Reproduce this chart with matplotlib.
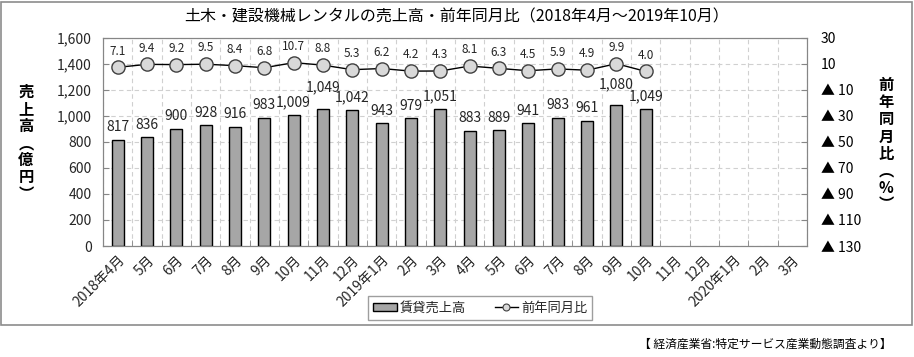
import numpy as np
import matplotlib
matplotlib.use("Agg")
import matplotlib.pyplot as plt
from matplotlib.patches import Rectangle
from matplotlib.lines import Line2D

plt.rcParams['font.family'] = ['Noto Sans CJK JP', 'DejaVu Sans']

# category labels (2018/4 - 2020/3), data only up to 2019/10
months = ["2018年4月", "5月", "6月", "7月", "8月", "9月", "10月", "11月", "12月",
          "2019年1月", "2月", "3月", "4月", "5月", "6月", "7月", "8月", "9月", "10月",
          "11月", "12月", "2020年1月", "2月", "3月"]
sales = [817, 836, 900, 928, 916, 983, 1009, 1049, 1042, 943, 979, 1051,
         883, 889, 941, 983, 961, 1080, 1049]
yoy = [7.1, 9.4, 9.2, 9.5, 8.4, 6.8, 10.7, 8.8, 5.3, 6.2, 4.2, 4.3,
       8.1, 6.3, 4.5, 5.9, 4.9, 9.9, 4.0]
left_ticks = [0, 200, 400, 600, 800, 1000, 1200, 1400, 1600]
right_ticks = [-130, -110, -90, -70, -50, -30, -10, 10, 30]

title = "土木・建設機械レンタルの売上高・前年同月比（2018年4月～2019年10月）"
source = "【 経済産業省:特定サービス産業動態調査より】"

grid_col = "#d0d0d0"
axis_col = "#868686"
text_col = "#262626"

fig = plt.figure(figsize=(9.14, 3.57), dpi=100)
fig.patches.append(Rectangle((1 / 914, 1 - 325 / 357), 911 / 914, 323 / 357,
                             transform=fig.transFigure, fill=False,
                             edgecolor="#8c8c8c", linewidth=1.2))

ax = fig.add_axes([103 / 914, 1 - 246 / 357, 704 / 914, 208.5 / 357])
n = len(months)
x = np.arange(len(sales))
bars = ax.bar(x, sales, width=0.4, color="#a6a6a6", edgecolor="black",
              linewidth=1.0, label="賃貸売上高", zorder=3)
ax.set_xlim(-0.5, n - 0.5)
ax.set_ylim(0, 1600)
ax.set_yticks(left_ticks)
ax.set_yticklabels([f"{v:,}" for v in left_ticks], fontsize=10, color=text_col)
ax.set_xticks(np.arange(n))
ax.set_xticklabels(months, rotation=45, ha="right", rotation_mode="anchor",
                   fontsize=10, color=text_col)
ax.tick_params(axis="x", length=0, pad=5)
ax.set_xticks(np.arange(n + 1) - 0.5, minor=True)
ax.tick_params(axis="x", which="minor", length=4, direction="in", color=axis_col)
ax.tick_params(axis="y", length=4, direction="in", color=axis_col, pad=8)
ax.grid(True, which="major", axis="y", color=grid_col, linestyle=(0, (4, 3)), linewidth=0.8)
ax.grid(True, which="minor", axis="x", color=grid_col, linestyle=(0, (4, 3)), linewidth=0.8)
ax.set_axisbelow(True)
for sp in ax.spines.values():
    sp.set_color(axis_col)

# bar labels, a few lifted as in the source chart
label_lift = {7: 7, 17: 6}
for i, v in enumerate(sales):
    ax.annotate(f"{v:,}", (x[i], v), xytext=(0, 4 + label_lift.get(i, 0)),
                textcoords="offset points", ha="center", va="bottom",
                fontsize=10, color=text_col, zorder=5)

ax2 = ax.twinx()
ax2.set_ylim(-130, 30)
ax2.set_yticks(right_ticks)
ax2.set_yticklabels([str(v) if v > 0 else f"▲ {-v}" for v in right_ticks],
                    fontsize=10, color="black")
ax2.tick_params(axis="y", length=4, direction="in", color=axis_col, pad=10)
for sp in ax2.spines.values():
    sp.set_color(axis_col)
ax2.plot(x, yoy, color="black", linewidth=1.0, marker="o",
         markersize=9.5, markerfacecolor="#d9d9d9",
         markeredgecolor="#404040", markeredgewidth=1.0, zorder=4)
for i, v in enumerate(yoy):
    ax2.annotate(f"{v:.1f}", (x[i], v), xytext=(0, 7),
                 textcoords="offset points", ha="center", va="bottom",
                 fontsize=8.5, color=text_col)

fig.text(0.5, 1 - 17 / 357, title, ha="center", va="center",
         fontsize=11.5, color="black")

fig.text(26 / 914, 1 - 143 / 357, "\n".join("売上高︵億円︶"), ha="center",
         va="center", fontsize=11, fontweight="bold", linespacing=1.08)
fig.text(886 / 914, 1 - 145 / 357, "\n".join("前年同月比︵%︶"), ha="center",
         va="center", fontsize=11, fontweight="bold", linespacing=1.08)

line_handle = Line2D([], [], color="black", linewidth=1.0, marker="o",
                     markersize=5, markerfacecolor="#d9d9d9",
                     markeredgecolor="#404040", markeredgewidth=0.8)
leg = fig.legend(handles=[bars, line_handle], labels=["賃貸売上高", "前年同月比"],
                 loc="center", bbox_to_anchor=(480 / 914, 1 - 308 / 357), ncol=2,
                 frameon=True, fancybox=False, fontsize=9.5,
                 handlelength=1.8, handleheight=0.5, handletextpad=0.2,
                 columnspacing=2.2, borderpad=0.4)
leg.get_frame().set_edgecolor(axis_col)
leg.get_frame().set_linewidth(1.0)
for t in leg.get_texts():
    t.set_color(text_col)

fig.text(892 / 914, 1 - 344 / 357, source, ha="right", va="center",
         fontsize=8.5, color="black")

fig.savefig("out.png", dpi=100)
